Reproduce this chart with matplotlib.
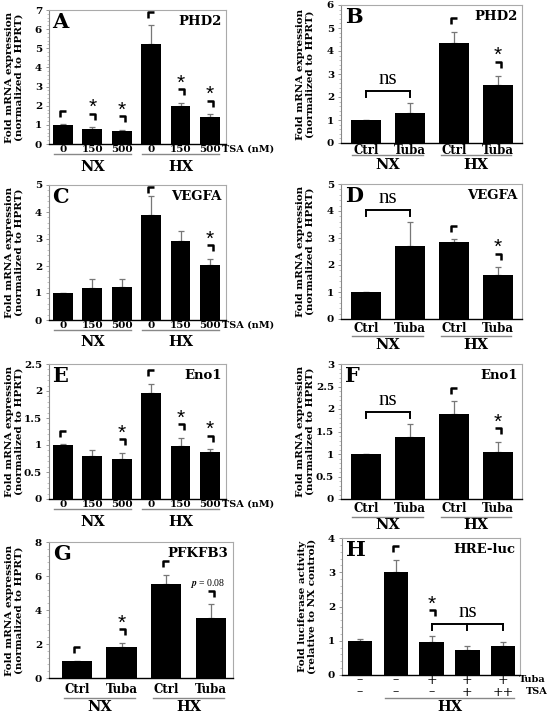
import numpy as np
import matplotlib.pyplot as plt
from matplotlib.path import Path
from matplotlib.ticker import MultipleLocator, FuncFormatter
from matplotlib import transforms

plt.rcParams['font.family'] = 'DejaVu Serif'
plt.rcParams['font.weight'] = 'bold'
plt.rcParams['mathtext.fontset'] = 'stix'

# ---------------- data ----------------
tsa_labels = ['0', '150', '500', '0', '150', '500']
tuba_labels = ['Ctrl', 'Tuba', 'Ctrl', 'Tuba']

# A  PHD2 / TSA
phd2_tsa = [1.0, 0.77, 0.68, 5.2, 1.97, 1.4]
phd2_tsa_err = [0.02, 0.1, 0.07, 1.0, 0.18, 0.15]
phd2_tsa_sig = ['c', '*', '*', 'c', '*', '*']
# B  PHD2 / Tuba
phd2_tuba = [1.0, 1.3, 4.34, 2.53]
phd2_tuba_err = [0.0, 0.42, 0.5, 0.39]
phd2_tuba_sig = ['', '', 'c', '*']
# C  VEGFA / TSA
vegfa_tsa = [1.0, 1.2, 1.22, 3.89, 2.91, 2.04]
vegfa_tsa_err = [0.0, 0.31, 0.29, 0.7, 0.4, 0.21]
vegfa_tsa_sig = ['', '', '', 'c', '', '*']
# D  VEGFA / Tuba
vegfa_tuba = [1.0, 2.7, 2.84, 1.63]
vegfa_tuba_err = [0.0, 0.88, 0.11, 0.28]
vegfa_tuba_sig = ['', '', 'c', '*']
# E  Eno1 / TSA
eno1_tsa = [1.0, 0.8, 0.75, 1.97, 0.98, 0.87]
eno1_tsa_err = [0.01, 0.1, 0.1, 0.16, 0.15, 0.05]
eno1_tsa_sig = ['c', '', '*', 'c', '*', '*']
# F  Eno1 / Tuba
eno1_tuba = [1.0, 1.37, 1.88, 1.05]
eno1_tuba_err = [0.0, 0.3, 0.29, 0.22]
eno1_tuba_sig = ['', '', 'c', '*']
# G  PFKFB3 / Tuba
pfkfb3_tuba = [1.0, 1.82, 5.55, 3.53]
pfkfb3_tuba_err = [0.0, 0.24, 0.49, 0.8]
pfkfb3_tuba_sig = ['c', '*', 'c', 'p']
# H  HRE-luc
hre_luc = [1.0, 3.02, 0.95, 0.74, 0.84]
hre_luc_err = [0.05, 0.33, 0.18, 0.12, 0.11]
hre_luc_sig = ['', 'c', '*', '', '']
hre_tuba_row = ['\u2013', '\u2013', '+', '+', '+']
hre_tsa_row = ['\u2013', '\u2013', '\u2013', '+', '++']

W, H = 550, 714
fig = plt.figure(figsize=(W / 100, H / 100), dpi=100)


def add_ax(l, t, r, b):
    return fig.add_axes([l / W, 1 - b / H, (r - l) / W, (b - t) / H])


def below(ax, dy):
    # x in data units, y = dy pixels under the bottom of the axes
    base = transforms.blended_transform_factory(ax.transData, ax.transAxes)
    return base + transforms.ScaledTranslation(0, -dy / 100, fig.dpi_scale_trans)


corner_l = Path([(-1, -1), (-1, 1), (1, 1)], [Path.MOVETO, Path.LINETO, Path.LINETO])
corner_r = Path([(-1, 1), (1, 1), (1, -1)], [Path.MOVETO, Path.LINETO, Path.LINETO])


def panel(ax, vals, errs, sig, ymax, major, minor, xlim, letter, gene, ns=None):
    x = np.arange(len(vals))
    vals = np.asarray(vals, float)
    errs = np.asarray(errs, float)
    ax.bar(x, vals, width=0.68, color='black', zorder=2)
    ax.errorbar(x, vals, yerr=[np.zeros_like(errs), errs], fmt='none',
                ecolor='#777777', elinewidth=0.9, capsize=2, capthick=0.9, zorder=1)
    ax.set_ylim(0, ymax)
    ax.set_xlim(*xlim)
    ax.set_xticks([])
    ax.yaxis.set_major_locator(MultipleLocator(major))
    ax.yaxis.set_minor_locator(MultipleLocator(minor))
    ax.yaxis.set_major_formatter(FuncFormatter(lambda v, p: '%g' % v))
    ax.tick_params(axis='y', which='major', labelsize=7.5, length=2, width=0.6,
                   color='#888888', pad=3)
    ax.tick_params(axis='y', which='minor', length=1.5, width=0.5, color='#aaaaaa')
    for s in ['top', 'right']:
        ax.spines[s].set_color('#aaaaaa')
        ax.spines[s].set_linewidth(0.8)
    ax.spines['left'].set_color('#888888')
    ax.spines['left'].set_linewidth(0.8)
    ax.spines['bottom'].set_color('black')
    ax.spines['bottom'].set_linewidth(1.0)

    ax.text(0.02, 0.985, letter, transform=ax.transAxes, ha='left', va='top', fontsize=15)
    ax.text(0.975, 0.965, gene, transform=ax.transAxes, ha='right', va='top', fontsize=9.5)

    top = vals + errs
    base = top.copy()
    if ns:
        y_ns = top[ns[0]:ns[-1] + 1].max() + 0.09 * ymax
        for i in ns:
            ax.plot([i, i], [y_ns - 0.045 * ymax, y_ns], color='black', lw=1.4)
        ax.plot([ns[0], ns[-1]], [y_ns, y_ns], color='black', lw=1.4)
        ax.annotate('ns', ((ns[0] + ns[-1]) / 2, y_ns), xytext=(0, 1.5),
                    textcoords='offset points', ha='center', va='bottom',
                    family='Liberation Serif', weight='normal', fontsize=15)
        base[ns[0]:ns[-1] + 1] = y_ns
    for i, s in enumerate(sig):
        if not s:
            continue
        yb = min(base[i] + 0.08 * ymax, 0.965 * ymax)
        ax.plot(i, yb, marker=corner_l if s == 'c' else corner_r, ms=5, mew=1.8,
                mfc='none', mec='black', ls='none')
        if s == '*':
            ax.annotate('*', (i, yb), xytext=(0, 2.5), textcoords='offset points',
                        ha='center', va='baseline', family='Liberation Sans',
                        weight='normal', fontsize=15)
        if s == 'p':
            ax.annotate('$p$ = 0.08', (i, yb), xytext=(-2, 7), textcoords='offset points',
                        ha='center', va='center', family='Liberation Serif',
                        weight='normal', fontsize=7)


def xlabels(ax, labels, groups, dy_tick, dy_line, dy_grp, tick_fs):
    for i, lab in enumerate(labels):
        ax.text(i, 0, lab, transform=below(ax, dy_tick), ha='center', va='top',
                fontsize=tick_fs)
    for name, (i0, i1) in groups:
        ax.plot([i0 - 0.3, i1 + 0.3], [0, 0], transform=below(ax, dy_line),
                color='#888888', lw=1.0, clip_on=False)
        ax.text((i0 + i1) / 2, 0, name, transform=below(ax, dy_grp), ha='center',
                va='center', fontsize=10.5)


def ylab(text, x_px, ax_t, ax_b):
    fig.text(x_px / W, 1 - (ax_t + ax_b) / 2 / H, text, rotation=90, ha='center',
             va='center', fontsize=7.5, linespacing=1.05)


mrna = 'Fold mRNA expression\n(normalized to HPRT)'
tsa_groups = [('NX', (0, 2)), ('HX', (3, 5))]
tuba_groups = [('NX', (0, 1)), ('HX', (2, 3))]
xl_tsa = (-0.48, 5.55)
xl_tuba = (-0.56, 3.54)

# A
axA = add_ax(49, 10, 226, 144)
panel(axA, phd2_tsa, phd2_tsa_err, phd2_tsa_sig, 7, 1, 0.2, xl_tsa, 'A', 'PHD2')
xlabels(axA, tsa_labels, tsa_groups, 1, 10, 23, 7.5)
fig.text(222 / W, 1 - 149 / H, 'TSA (nM)', ha='left', va='center', fontsize=7)
ylab(mrna, 14, 10, 144)

# B
axB = add_ax(341, 5, 522, 143)
panel(axB, phd2_tuba, phd2_tuba_err, phd2_tuba_sig, 6, 1, 0.2, xl_tuba, 'B', 'PHD2', ns=[0, 1])
xlabels(axB, tuba_labels, tuba_groups, 1, 12, 22, 8.5)
ylab(mrna, 305, 5, 143)

# C
axC = add_ax(49, 185, 226, 320)
panel(axC, vegfa_tsa, vegfa_tsa_err, vegfa_tsa_sig, 5, 1, 0.2, xl_tsa, 'C', 'VEGFA')
xlabels(axC, tsa_labels, tsa_groups, 1, 10, 22, 7.5)
fig.text(222 / W, 1 - 325 / H, 'TSA (nM)', ha='left', va='center', fontsize=7)
ylab(mrna, 14, 185, 320)

# D
axD = add_ax(341, 184, 522, 319)
panel(axD, vegfa_tuba, vegfa_tuba_err, vegfa_tuba_sig, 5, 1, 0.2, xl_tuba, 'D', 'VEGFA', ns=[0, 1])
xlabels(axD, tuba_labels, tuba_groups, 3, 17, 26, 8.5)
ylab(mrna, 305, 184, 319)

# E
axE = add_ax(49, 364, 226, 499)
panel(axE, eno1_tsa, eno1_tsa_err, eno1_tsa_sig, 2.5, 0.5, 0.1, xl_tsa, 'E', 'Eno1')
xlabels(axE, tsa_labels, tsa_groups, 1, 10, 23, 7.5)
fig.text(222 / W, 1 - 504 / H, 'TSA (nM)', ha='left', va='center', fontsize=7)
ylab(mrna, 14, 364, 499)

# F
axF = add_ax(341, 364, 522, 499)
panel(axF, eno1_tuba, eno1_tuba_err, eno1_tuba_sig, 3, 0.5, 0.1, xl_tuba, 'F', 'Eno1', ns=[0, 1])
xlabels(axF, tuba_labels, tuba_groups, 3, 18, 26, 8.5)
ylab(mrna, 305, 364, 499)

# G
axG = add_ax(49, 542, 233, 678)
panel(axG, pfkfb3_tuba, pfkfb3_tuba_err, pfkfb3_tuba_sig, 8, 2, 0.4, (-0.63, 3.5), 'G', 'PFKFB3')
xlabels(axG, tuba_labels, tuba_groups, 5, 20, 29, 8.5)
ylab(mrna, 14, 542, 678)

# H
axH = add_ax(342, 538, 520, 675)
panel(axH, hre_luc, hre_luc_err, hre_luc_sig, 4, 1, 0.2, (-0.5, 4.47), 'H', 'HRE-luc', ns=[2, 3, 4])
for i, (a, b) in enumerate(zip(hre_tuba_row, hre_tsa_row)):
    axH.text(i, 0, a, transform=below(axH, 5), ha='center', va='center', fontsize=9,
             weight='normal')
    axH.text(i, 0, b, transform=below(axH, 17), ha='center', va='center', fontsize=9,
             weight='normal')
fig.text(519 / W, 1 - 680 / H, 'Tuba', ha='left', va='center', fontsize=7)
fig.text(526 / W, 1 - 692 / H, 'TSA', ha='left', va='center', fontsize=7)
axH.plot([1 - 0.3, 4 + 0.3], [0, 0], transform=below(axH, 23), color='#888888',
         lw=1.0, clip_on=False)
axH.text(2.5, 0, 'HX', transform=below(axH, 32), ha='center', va='center', fontsize=10.5)
ylab('Fold luciferase activity\n(relative to NX control)', 307, 538, 675)

fig.savefig('out.png', dpi=100)
